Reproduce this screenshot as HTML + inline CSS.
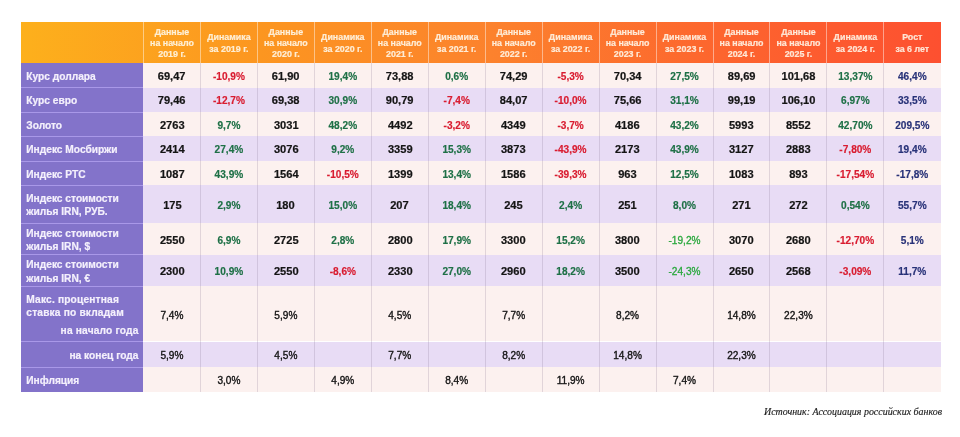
<!DOCTYPE html>
<html lang="ru"><head><meta charset="utf-8"><title>Таблица</title>
<style>
html,body{margin:0;padding:0;background:#fff;}
body{width:960px;height:437px;position:relative;overflow:hidden;font-family:"Liberation Sans",sans-serif;}
.a{position:absolute;}
.hd{background:linear-gradient(90deg,#fdb01c 0%,#fc9620 26%,#fc822d 51%,#fd652e 76%,#fd5030 100%);}
.h{position:absolute;display:flex;align-items:center;justify-content:center;text-align:center;color:rgba(255,250,238,.86);-webkit-text-stroke:.2px;font-weight:bold;font-size:8.9px;line-height:11.2px;box-sizing:border-box;padding-top:2.4px;}
.lab{position:absolute;background:#8373ca;color:#f4f0fc;-webkit-text-stroke:.2px;font-weight:bold;font-size:10.2px;line-height:13.2px;display:flex;align-items:center;box-sizing:border-box;padding-left:5.8px;padding-top:2px;}
.r{position:absolute;}
.p{background:#fcf1ef;} .l{background:#e8dcf5;}
.c{position:absolute;top:0;bottom:0;display:flex;align-items:center;justify-content:center;font-weight:bold;font-size:10.1px;color:#141414;box-sizing:border-box;padding-top:2.3px;-webkit-text-stroke:.2px;}
.c span{display:inline-block;transform:scaleX(1.1);white-space:nowrap;}
.n{color:#d91c30;} .g{color:#1e7046;} .b{color:#283278;}
.n,.g,.b{-webkit-text-stroke:.18px;}
.n span,.g span,.b span,.g2 span,.m span{transform:scaleX(1);} .g2{color:#2aa83e;font-weight:normal;-webkit-text-stroke:.3px #2aa83e;}
.m{font-weight:normal;-webkit-text-stroke:.35px #141414;}
.vs{position:absolute;width:1px;}
.hs{position:absolute;height:1px;background:#a998e8;}
.src{position:absolute;right:18px;top:406.2px;font-family:"Liberation Serif",serif;font-style:italic;font-size:9.95px;color:#1c1c1c;-webkit-text-stroke:.15px;white-space:nowrap;}
</style></head><body>

<div class="a hd" style="left:20.5px;top:22px;width:920.3px;height:40.8px"></div>
<div class="h" style="left:143.5px;top:22px;width:56.95px;height:40.8px">Данные<br>на начало<br>2019 г.</div>
<div class="h" style="left:200.45px;top:22px;width:56.95px;height:40.8px">Динамика<br>за 2019 г.</div>
<div class="h" style="left:257.4px;top:22px;width:56.95px;height:40.8px">Данные<br>на начало<br>2020 г.</div>
<div class="h" style="left:314.35px;top:22px;width:56.95px;height:40.8px">Динамика<br>за 2020 г.</div>
<div class="h" style="left:371.3px;top:22px;width:56.95px;height:40.8px">Данные<br>на начало<br>2021 г.</div>
<div class="h" style="left:428.25px;top:22px;width:56.95px;height:40.8px">Динамика<br>за 2021 г.</div>
<div class="h" style="left:485.2px;top:22px;width:56.95px;height:40.8px">Данные<br>на начало<br>2022 г.</div>
<div class="h" style="left:542.15px;top:22px;width:56.95px;height:40.8px">Динамика<br>за 2022 г.</div>
<div class="h" style="left:599.1px;top:22px;width:56.95px;height:40.8px">Данные<br>на начало<br>2023 г.</div>
<div class="h" style="left:656.05px;top:22px;width:56.95px;height:40.8px">Динамика<br>за 2023 г.</div>
<div class="h" style="left:713px;top:22px;width:56.95px;height:40.8px">Данные<br>на начало<br>2024 г.</div>
<div class="h" style="left:769.95px;top:22px;width:56.95px;height:40.8px">Данные<br>на начало<br>2025 г.</div>
<div class="h" style="left:826.9px;top:22px;width:56.95px;height:40.8px">Динамика<br>за 2024 г.</div>
<div class="h" style="left:883.85px;top:22px;width:56.95px;height:40.8px">Рост<br>за 6 лет</div>
<div class="r p" style="left:143.1px;top:62.8px;width:797.7px;height:24.9px">
<div class="c" style="left:0.4px;width:56.95px"><span>69,47</span></div>
<div class="c n" style="left:57.35px;width:56.95px"><span>-10,9%</span></div>
<div class="c" style="left:114.3px;width:56.95px"><span>61,90</span></div>
<div class="c g" style="left:171.25px;width:56.95px"><span>19,4%</span></div>
<div class="c" style="left:228.2px;width:56.95px"><span>73,88</span></div>
<div class="c g" style="left:285.15px;width:56.95px"><span>0,6%</span></div>
<div class="c" style="left:342.1px;width:56.95px"><span>74,29</span></div>
<div class="c n" style="left:399.05px;width:56.95px"><span>-5,3%</span></div>
<div class="c" style="left:456px;width:56.95px"><span>70,34</span></div>
<div class="c g" style="left:512.95px;width:56.95px"><span>27,5%</span></div>
<div class="c" style="left:569.9px;width:56.95px"><span>89,69</span></div>
<div class="c" style="left:626.85px;width:56.95px"><span>101,68</span></div>
<div class="c g" style="left:683.8px;width:56.95px"><span>13,37%</span></div>
<div class="c b" style="left:740.75px;width:56.95px"><span>46,4%</span></div>
</div>
<div class="lab" style="left:20.5px;top:62.8px;width:122.6px;height:24.9px">Курс доллара</div>
<div class="r l" style="left:143.1px;top:87.7px;width:797.7px;height:24.3px">
<div class="c" style="left:0.4px;width:56.95px"><span>79,46</span></div>
<div class="c n" style="left:57.35px;width:56.95px"><span>-12,7%</span></div>
<div class="c" style="left:114.3px;width:56.95px"><span>69,38</span></div>
<div class="c g" style="left:171.25px;width:56.95px"><span>30,9%</span></div>
<div class="c" style="left:228.2px;width:56.95px"><span>90,79</span></div>
<div class="c n" style="left:285.15px;width:56.95px"><span>-7,4%</span></div>
<div class="c" style="left:342.1px;width:56.95px"><span>84,07</span></div>
<div class="c n" style="left:399.05px;width:56.95px"><span>-10,0%</span></div>
<div class="c" style="left:456px;width:56.95px"><span>75,66</span></div>
<div class="c g" style="left:512.95px;width:56.95px"><span>31,1%</span></div>
<div class="c" style="left:569.9px;width:56.95px"><span>99,19</span></div>
<div class="c" style="left:626.85px;width:56.95px"><span>106,10</span></div>
<div class="c g" style="left:683.8px;width:56.95px"><span>6,97%</span></div>
<div class="c b" style="left:740.75px;width:56.95px"><span>33,5%</span></div>
</div>
<div class="lab" style="left:20.5px;top:87.7px;width:122.6px;height:24.3px">Курс евро</div>
<div class="r p" style="left:143.1px;top:112px;width:797.7px;height:24.4px">
<div class="c" style="left:0.4px;width:56.95px"><span>2763</span></div>
<div class="c g" style="left:57.35px;width:56.95px"><span>9,7%</span></div>
<div class="c" style="left:114.3px;width:56.95px"><span>3031</span></div>
<div class="c g" style="left:171.25px;width:56.95px"><span>48,2%</span></div>
<div class="c" style="left:228.2px;width:56.95px"><span>4492</span></div>
<div class="c n" style="left:285.15px;width:56.95px"><span>-3,2%</span></div>
<div class="c" style="left:342.1px;width:56.95px"><span>4349</span></div>
<div class="c n" style="left:399.05px;width:56.95px"><span>-3,7%</span></div>
<div class="c" style="left:456px;width:56.95px"><span>4186</span></div>
<div class="c g" style="left:512.95px;width:56.95px"><span>43,2%</span></div>
<div class="c" style="left:569.9px;width:56.95px"><span>5993</span></div>
<div class="c" style="left:626.85px;width:56.95px"><span>8552</span></div>
<div class="c g" style="left:683.8px;width:56.95px"><span>42,70%</span></div>
<div class="c b" style="left:740.75px;width:56.95px"><span>209,5%</span></div>
</div>
<div class="lab" style="left:20.5px;top:112px;width:122.6px;height:24.4px">Золото</div>
<div class="r l" style="left:143.1px;top:136.4px;width:797.7px;height:24.8px">
<div class="c" style="left:0.4px;width:56.95px"><span>2414</span></div>
<div class="c g" style="left:57.35px;width:56.95px"><span>27,4%</span></div>
<div class="c" style="left:114.3px;width:56.95px"><span>3076</span></div>
<div class="c g" style="left:171.25px;width:56.95px"><span>9,2%</span></div>
<div class="c" style="left:228.2px;width:56.95px"><span>3359</span></div>
<div class="c g" style="left:285.15px;width:56.95px"><span>15,3%</span></div>
<div class="c" style="left:342.1px;width:56.95px"><span>3873</span></div>
<div class="c n" style="left:399.05px;width:56.95px"><span>-43,9%</span></div>
<div class="c" style="left:456px;width:56.95px"><span>2173</span></div>
<div class="c g" style="left:512.95px;width:56.95px"><span>43,9%</span></div>
<div class="c" style="left:569.9px;width:56.95px"><span>3127</span></div>
<div class="c" style="left:626.85px;width:56.95px"><span>2883</span></div>
<div class="c n" style="left:683.8px;width:56.95px"><span>-7,80%</span></div>
<div class="c b" style="left:740.75px;width:56.95px"><span>19,4%</span></div>
</div>
<div class="lab" style="left:20.5px;top:136.4px;width:122.6px;height:24.8px">Индекс Мосбиржи</div>
<div class="r p" style="left:143.1px;top:161.2px;width:797.7px;height:24.1px">
<div class="c" style="left:0.4px;width:56.95px"><span>1087</span></div>
<div class="c g" style="left:57.35px;width:56.95px"><span>43,9%</span></div>
<div class="c" style="left:114.3px;width:56.95px"><span>1564</span></div>
<div class="c n" style="left:171.25px;width:56.95px"><span>-10,5%</span></div>
<div class="c" style="left:228.2px;width:56.95px"><span>1399</span></div>
<div class="c g" style="left:285.15px;width:56.95px"><span>13,4%</span></div>
<div class="c" style="left:342.1px;width:56.95px"><span>1586</span></div>
<div class="c n" style="left:399.05px;width:56.95px"><span>-39,3%</span></div>
<div class="c" style="left:456px;width:56.95px"><span>963</span></div>
<div class="c g" style="left:512.95px;width:56.95px"><span>12,5%</span></div>
<div class="c" style="left:569.9px;width:56.95px"><span>1083</span></div>
<div class="c" style="left:626.85px;width:56.95px"><span>893</span></div>
<div class="c n" style="left:683.8px;width:56.95px"><span>-17,54%</span></div>
<div class="c b" style="left:740.75px;width:56.95px"><span>-17,8%</span></div>
</div>
<div class="lab" style="left:20.5px;top:161.2px;width:122.6px;height:24.1px">Индекс РТС</div>
<div class="r l" style="left:143.1px;top:185.3px;width:797.7px;height:37.9px">
<div class="c" style="left:0.4px;width:56.95px"><span>175</span></div>
<div class="c g" style="left:57.35px;width:56.95px"><span>2,9%</span></div>
<div class="c" style="left:114.3px;width:56.95px"><span>180</span></div>
<div class="c g" style="left:171.25px;width:56.95px"><span>15,0%</span></div>
<div class="c" style="left:228.2px;width:56.95px"><span>207</span></div>
<div class="c g" style="left:285.15px;width:56.95px"><span>18,4%</span></div>
<div class="c" style="left:342.1px;width:56.95px"><span>245</span></div>
<div class="c g" style="left:399.05px;width:56.95px"><span>2,4%</span></div>
<div class="c" style="left:456px;width:56.95px"><span>251</span></div>
<div class="c g" style="left:512.95px;width:56.95px"><span>8,0%</span></div>
<div class="c" style="left:569.9px;width:56.95px"><span>271</span></div>
<div class="c" style="left:626.85px;width:56.95px"><span>272</span></div>
<div class="c g" style="left:683.8px;width:56.95px"><span>0,54%</span></div>
<div class="c b" style="left:740.75px;width:56.95px"><span>55,7%</span></div>
</div>
<div class="lab" style="left:20.5px;top:185.3px;width:122.6px;height:37.9px">Индекс стоимости<br>жилья IRN, РУБ.</div>
<div class="r p" style="left:143.1px;top:223.2px;width:797.7px;height:31.5px">
<div class="c" style="left:0.4px;width:56.95px"><span>2550</span></div>
<div class="c g" style="left:57.35px;width:56.95px"><span>6,9%</span></div>
<div class="c" style="left:114.3px;width:56.95px"><span>2725</span></div>
<div class="c g" style="left:171.25px;width:56.95px"><span>2,8%</span></div>
<div class="c" style="left:228.2px;width:56.95px"><span>2800</span></div>
<div class="c g" style="left:285.15px;width:56.95px"><span>17,9%</span></div>
<div class="c" style="left:342.1px;width:56.95px"><span>3300</span></div>
<div class="c g" style="left:399.05px;width:56.95px"><span>15,2%</span></div>
<div class="c" style="left:456px;width:56.95px"><span>3800</span></div>
<div class="c g2" style="left:512.95px;width:56.95px"><span>-19,2%</span></div>
<div class="c" style="left:569.9px;width:56.95px"><span>3070</span></div>
<div class="c" style="left:626.85px;width:56.95px"><span>2680</span></div>
<div class="c n" style="left:683.8px;width:56.95px"><span>-12,70%</span></div>
<div class="c b" style="left:740.75px;width:56.95px"><span>5,1%</span></div>
</div>
<div class="lab" style="left:20.5px;top:223.2px;width:122.6px;height:31.5px">Индекс стоимости<br>жилья IRN, $</div>
<div class="r l" style="left:143.1px;top:254.7px;width:797.7px;height:31.7px">
<div class="c" style="left:0.4px;width:56.95px"><span>2300</span></div>
<div class="c g" style="left:57.35px;width:56.95px"><span>10,9%</span></div>
<div class="c" style="left:114.3px;width:56.95px"><span>2550</span></div>
<div class="c n" style="left:171.25px;width:56.95px"><span>-8,6%</span></div>
<div class="c" style="left:228.2px;width:56.95px"><span>2330</span></div>
<div class="c g" style="left:285.15px;width:56.95px"><span>27,0%</span></div>
<div class="c" style="left:342.1px;width:56.95px"><span>2960</span></div>
<div class="c g" style="left:399.05px;width:56.95px"><span>18,2%</span></div>
<div class="c" style="left:456px;width:56.95px"><span>3500</span></div>
<div class="c g2" style="left:512.95px;width:56.95px"><span>-24,3%</span></div>
<div class="c" style="left:569.9px;width:56.95px"><span>2650</span></div>
<div class="c" style="left:626.85px;width:56.95px"><span>2568</span></div>
<div class="c n" style="left:683.8px;width:56.95px"><span>-3,09%</span></div>
<div class="c b" style="left:740.75px;width:56.95px"><span>11,7%</span></div>
</div>
<div class="lab" style="left:20.5px;top:254.7px;width:122.6px;height:31.7px">Индекс стоимости<br>жилья IRN, €</div>
<div class="r p" style="left:143.1px;top:286.4px;width:797.7px;height:55.1px">
<div class="c m" style="left:0.4px;width:56.95px"><span>7,4%</span></div>
<div class="c m" style="left:114.3px;width:56.95px"><span>5,9%</span></div>
<div class="c m" style="left:228.2px;width:56.95px"><span>4,5%</span></div>
<div class="c m" style="left:342.1px;width:56.95px"><span>7,7%</span></div>
<div class="c m" style="left:456px;width:56.95px"><span>8,2%</span></div>
<div class="c m" style="left:569.9px;width:56.95px"><span>14,8%</span></div>
<div class="c m" style="left:626.85px;width:56.95px"><span>22,3%</span></div>
</div>
<div class="lab" style="left:20.5px;top:286.4px;width:122.6px;height:55.1px;display:block;padding-top:6.4px;letter-spacing:.17px">Макс. процентная<br>ставка по вкладам<div style="text-align:right;padding-right:4.6px;margin-top:4.7px">на начало года</div></div>
<div class="r l" style="left:143.1px;top:341.5px;width:797.7px;height:25.7px">
<div class="c m" style="left:0.4px;width:56.95px"><span>5,9%</span></div>
<div class="c m" style="left:114.3px;width:56.95px"><span>4,5%</span></div>
<div class="c m" style="left:228.2px;width:56.95px"><span>7,7%</span></div>
<div class="c m" style="left:342.1px;width:56.95px"><span>8,2%</span></div>
<div class="c m" style="left:456px;width:56.95px"><span>14,8%</span></div>
<div class="c m" style="left:569.9px;width:56.95px"><span>22,3%</span></div>
</div>
<div class="lab" style="left:20.5px;top:341.5px;width:122.6px;height:25.7px;justify-content:flex-end;padding-right:4.6px">на конец года</div>
<div class="r p" style="left:143.1px;top:367.2px;width:797.7px;height:25.2px">
<div class="c m" style="left:57.35px;width:56.95px"><span>3,0%</span></div>
<div class="c m" style="left:171.25px;width:56.95px"><span>4,9%</span></div>
<div class="c m" style="left:285.15px;width:56.95px"><span>8,4%</span></div>
<div class="c m" style="left:399.05px;width:56.95px"><span>11,9%</span></div>
<div class="c m" style="left:512.95px;width:56.95px"><span>7,4%</span></div>
</div>
<div class="lab" style="left:20.5px;top:367.2px;width:122.6px;height:25.2px">Инфляция</div>
<div class="hs" style="left:20.5px;top:87.4px;width:122.6px"></div>
<div class="hs" style="left:20.5px;top:111.7px;width:122.6px"></div>
<div class="hs" style="left:20.5px;top:136.1px;width:122.6px"></div>
<div class="hs" style="left:20.5px;top:160.9px;width:122.6px"></div>
<div class="hs" style="left:20.5px;top:185px;width:122.6px"></div>
<div class="hs" style="left:20.5px;top:222.9px;width:122.6px"></div>
<div class="hs" style="left:20.5px;top:254.4px;width:122.6px"></div>
<div class="hs" style="left:20.5px;top:286.1px;width:122.6px"></div>
<div class="hs" style="left:20.5px;top:341.2px;width:122.6px"></div>
<div class="hs" style="left:20.5px;top:366.9px;width:122.6px"></div>
<div class="vs" style="left:143px;top:22px;height:40.8px;background:rgba(255,255,255,.45)"></div>
<div class="vs" style="left:199.95px;top:22px;height:40.8px;background:rgba(255,255,255,.45)"></div>
<div class="vs" style="left:199.95px;top:62.8px;height:329.6px;background:rgba(120,100,130,.2)"></div>
<div class="vs" style="left:256.9px;top:22px;height:40.8px;background:rgba(255,255,255,.45)"></div>
<div class="vs" style="left:256.9px;top:62.8px;height:329.6px;background:rgba(120,100,130,.2)"></div>
<div class="vs" style="left:313.85px;top:22px;height:40.8px;background:rgba(255,255,255,.45)"></div>
<div class="vs" style="left:313.85px;top:62.8px;height:329.6px;background:rgba(120,100,130,.2)"></div>
<div class="vs" style="left:370.8px;top:22px;height:40.8px;background:rgba(255,255,255,.45)"></div>
<div class="vs" style="left:370.8px;top:62.8px;height:329.6px;background:rgba(120,100,130,.2)"></div>
<div class="vs" style="left:427.75px;top:22px;height:40.8px;background:rgba(255,255,255,.45)"></div>
<div class="vs" style="left:427.75px;top:62.8px;height:329.6px;background:rgba(120,100,130,.2)"></div>
<div class="vs" style="left:484.7px;top:22px;height:40.8px;background:rgba(255,255,255,.45)"></div>
<div class="vs" style="left:484.7px;top:62.8px;height:329.6px;background:rgba(120,100,130,.2)"></div>
<div class="vs" style="left:541.65px;top:22px;height:40.8px;background:rgba(255,255,255,.45)"></div>
<div class="vs" style="left:541.65px;top:62.8px;height:329.6px;background:rgba(120,100,130,.2)"></div>
<div class="vs" style="left:598.6px;top:22px;height:40.8px;background:rgba(255,255,255,.45)"></div>
<div class="vs" style="left:598.6px;top:62.8px;height:329.6px;background:rgba(120,100,130,.2)"></div>
<div class="vs" style="left:655.55px;top:22px;height:40.8px;background:rgba(255,255,255,.45)"></div>
<div class="vs" style="left:655.55px;top:62.8px;height:329.6px;background:rgba(120,100,130,.2)"></div>
<div class="vs" style="left:712.5px;top:22px;height:40.8px;background:rgba(255,255,255,.45)"></div>
<div class="vs" style="left:712.5px;top:62.8px;height:329.6px;background:rgba(120,100,130,.2)"></div>
<div class="vs" style="left:769.45px;top:22px;height:40.8px;background:rgba(255,255,255,.45)"></div>
<div class="vs" style="left:769.45px;top:62.8px;height:329.6px;background:rgba(120,100,130,.2)"></div>
<div class="vs" style="left:826.4px;top:22px;height:40.8px;background:rgba(255,255,255,.45)"></div>
<div class="vs" style="left:826.4px;top:62.8px;height:329.6px;background:rgba(120,100,130,.2)"></div>
<div class="vs" style="left:883.35px;top:22px;height:40.8px;background:rgba(255,255,255,.45)"></div>
<div class="vs" style="left:883.35px;top:62.8px;height:329.6px;background:rgba(120,100,130,.2)"></div>
<div class="src">Источник: Ассоциация российских банков</div>
</body></html>
